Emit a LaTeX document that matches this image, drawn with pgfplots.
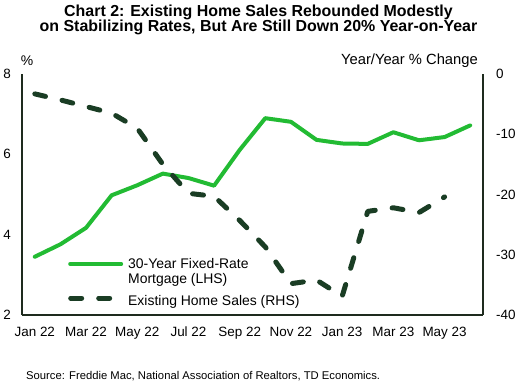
\documentclass[border=0pt]{standalone}
\usepackage{pgfplots}
\pgfplotsset{compat=1.18}
\usepackage{fontspec}
\setmainfont{Liberation Sans}
\definecolor{mgreen}{HTML}{22BB33}
\definecolor{dgreen}{HTML}{1A3D24}
\definecolor{axcol}{HTML}{1E2B1E}
\begin{document}
\begin{tikzpicture}
\path[use as bounding box] (-22bp,-70bp) rectangle (496bp,315bp);
\begin{axis}[
  at={(0,0)}, anchor=south west,
  scale only axis, width=461bp, height=241bp,
  xmin=-0.5, xmax=17.5, ymin=2, ymax=8,
  axis x line*=bottom, axis y line*=left,
  axis line style={axcol, line width=1.6bp},
  major tick length=0pt,
  xtick={0,2,4,6,8,10,12,14,16},
  xticklabels={Jan 22,Mar 22,May 22,Jul 22,Sep 22,Nov 22,Jan 23,Mar 23,May 23},
  ytick={2,4,6,8}, yticklabels={2,4,6,8},
  xticklabel style={font=\fontsize{13.5}{15}\selectfont, anchor=north, inner sep=0pt, yshift=-12bp},
  yticklabel style={font=\fontsize{13.5}{15}\selectfont, anchor=east, inner sep=0pt, xshift=-11bp},
  clip=false,
]
\addplot[mgreen, line width=4bp, line join=round, line cap=round] coordinates {
(0,3.45) (1,3.76) (2,4.17) (3,4.98) (4,5.23) (5,5.52) (6,5.41) (7,5.22) (8,6.11)
(9,6.90) (10,6.81) (11,6.36) (12,6.27) (13,6.26) (14,6.55) (15,6.35) (16,6.43) (17,6.72)};
\end{axis}
\begin{axis}[
  at={(0,0)}, anchor=south west,
  scale only axis, width=461bp, height=241bp,
  xmin=-0.5, xmax=17.5, ymin=-40, ymax=0,
  axis x line=none, axis y line*=right,
  axis line style={axcol, line width=1.6bp},
  major tick length=0pt,
  ytick={-40,-30,-20,-10,0}, yticklabels={-40,-30,-20,-10,0},
  yticklabel style={font=\fontsize{13.5}{15}\selectfont, anchor=west, inner sep=0pt, xshift=13bp},
  clip=false,
  legend style={draw=none, fill=none, at={(46bp,59bp)}, anchor=north west,
    inner sep=0pt, font=\fontsize{14}{16}\selectfont,
    legend cell align=left, row sep=0pt,
    /tikz/every odd column/.append style={column sep=3bp}},
]
\addlegendimage{legend image code/.code={\draw[line width=4bp, color=mgreen, line cap=round] (2bp,0bp) -- (53bp,0bp);}}
\addlegendentry{\rule[-4bp]{0pt}{12bp}30-Year Fixed-Rate}
\addlegendimage{empty legend}
\addlegendentry{\rule[-4bp]{0pt}{12bp}Mortgage (LHS)}
\addlegendimage{legend image code/.code={\draw[line width=5bp, color=dgreen, line cap=round, dash pattern=on 11bp off 17bp] (2.5bp,0bp) -- (50bp,0bp);}}
\addlegendentry{\rule[-4bp]{0pt}{20bp}Existing Home Sales (RHS)}
\addplot[dgreen, line width=5bp, line join=round, line cap=round, dash pattern=on 11bp off 17bp, forget plot] coordinates {
(0,-3.3) (1,-4.3) (2,-5.4) (3,-6.5) (4,-9.0) (5,-15.0) (6,-19.8) (7,-20.3) (8,-24.3)
(9,-28.7) (10,-34.8) (11,-34.2) (12,-36.9) (13,-22.8) (14,-22.2) (15,-23.0) (16,-20.4)};
\end{axis}
\node[font=\fontsize{14}{15}\selectfont] at (5bp,254bp) {\%};
\node[font=\fontsize{14.8}{15}\selectfont, anchor=east, inner sep=0pt] at (456bp,254bp) {Year/Year \% Change};
\node[font=\fontsize{16}{16}\selectfont\bfseries, anchor=base, inner sep=0pt] at (236.5bp,298bp) {Chart 2: Existing Home Sales Rebounded Modestly};
\node[font=\fontsize{16}{16}\selectfont\bfseries, anchor=base, inner sep=0pt] at (236.5bp,283bp) {on Stabilizing Rates, But Are Still Down 20\% Year-on-Year};
\node[font=\fontsize{11.3}{12}\selectfont, anchor=base west, inner sep=0pt] at (4bp,-64bp) {Source: Freddie Mac, National Association of Realtors, TD Economics.};
\end{tikzpicture}
\end{document}
